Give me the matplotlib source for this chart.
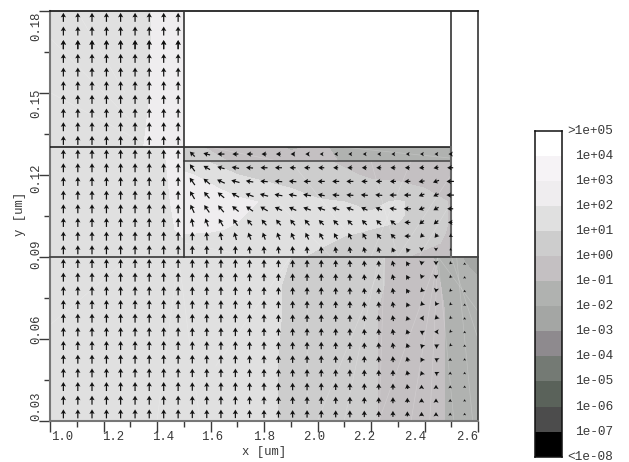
import numpy as np
import matplotlib
matplotlib.use("Agg")
import matplotlib.pyplot as plt
from matplotlib.colors import ListedColormap, BoundaryNorm

plt.rcParams['font.family'] = ['Liberation Mono', 'DejaVu Sans Mono']

# ---------- data ----------
band_colors = ['#000000', '#4c4c4c', '#5a625a', '#747a74', '#8e8a8e', '#a4a6a4', '#b0b2b0',
               '#c4c0c2', '#cdcdcd', '#e0e0e0', '#efedef', '#f6f3f6', '#ffffff']
band_levels = [-8, -7, -6, -5, -4, -3, -2, -1, 0, 1, 2, 3, 4, 5]
bar_labels = ['<1e-08', '1e-07', '1e-06', '1e-05', '1e-04', '1e-03', '1e-02', '1e-01',
              '1e+00', '1e+01', '1e+02', '1e+03', '1e+04', '>1e+05']

# log10 field, per device block
upper_x = [1.0, 1.2, 1.3, 1.4, 1.5]
upper_y = [0.13, 0.15, 0.18]
upper_val = [[1.5, 1.6, 1.8, 2.2, 2.6],
             [1.5, 1.5, 1.7, 2.1, 2.5],
             [1.5, 1.5, 1.6, 2.1, 2.5]]
mid_left_y = [0.09, 0.10, 0.11, 0.13]
mid_left_val = [[1.5, 1.5, 1.5, 1.5, 1.6],
                [1.5, 1.5, 1.5, 1.6, 2.2],
                [1.5, 1.5, 1.5, 1.5, 2.5],
                [1.5, 1.5, 1.5, 1.8, 2.5]]
mid_x = [1.5, 1.6, 1.7, 1.8, 1.9, 2.0, 2.1, 2.2, 2.3, 2.4, 2.5]
mid_y = [0.09, 0.095, 0.10, 0.105, 0.11, 0.115, 0.12, 0.125]
mid_val = [[1.5, 1.5, 1.4, 1.3, 1.1, 0.9, 0.7, 0.5, 0.2, -0.3, -1.0],
           [1.6, 1.6, 1.5, 1.4, 1.2, 1.1, 0.9, 0.7, 0.5, 0.3, -0.2],
           [2.2, 2.1, 1.9, 1.6, 1.3, 1.2, 1.1, 1.0, 0.9, 0.5, -0.1],
           [2.6, 2.5, 2.1, 1.7, 1.4, 1.3, 1.2, 1.1, 1.1, 0.7, -0.1],
           [2.7, 2.5, 2.3, 1.9, 1.4, 1.1, 1.0, 0.8, 1.1, 0.7, -0.1],
           [2.6, 2.2, 1.5, 1.2, 1.0, 0.7, 0.4, 0.2, 0.2, 0.0, -0.2],
           [2.2, 1.6, 1.0, 0.8, 0.5, 0.3, 0.1, -0.1, -0.2, -0.3, -0.4],
           [1.3, 0.9, 0.7, 0.5, 0.3, 0.1, -0.1, -0.2, -0.3, -0.4, -0.5]]
strip_y = [0.125, 0.13]
strip_val = [[0.8, 0.5, -0.3, -0.2, -0.4, -0.4, -1.2, -1.2, -1.3, -1.4, -1.5],
             [0.5, -0.2, -0.5, -0.3, -1.2, -0.8, -1.3, -1.2, -1.4, -1.3, -1.5]]
low_x = [1.0, 1.2, 1.4, 1.6, 1.8, 1.9, 2.0, 2.1, 2.2, 2.3, 2.4, 2.5, 2.55, 2.6]
low_y = [0.03, 0.05, 0.07, 0.08, 0.09]
low_val = [[1.5, 1.5, 1.5, 1.5, 1.2, 0.8, 0.6, 0.4, 0.1, -0.3, -0.7, -1.1, -1.4, -1.6],
           [1.5, 1.5, 1.5, 1.5, 1.2, 0.8, 0.6, 0.4, 0.1, -0.3, -0.7, -1.1, -1.4, -1.6],
           [1.5, 1.5, 1.5, 1.5, 1.2, 0.9, 0.6, 0.4, 0.1, -0.3, -0.7, -1.1, -1.4, -1.7],
           [1.5, 1.5, 1.5, 1.5, 1.2, 0.9, 0.6, 0.4, 0.2, -0.2, -0.7, -1.2, -1.6, -1.9],
           [1.5, 1.5, 1.5, 1.5, 1.3, 1.0, 0.7, 0.4, 0.2, -0.2, -0.8, -1.4, -2.1, -2.3]]

# faint mesh edges: (x0, y0, x1, y1)
mesh_edges = [(2.45, .09, 2.23, .03), (2.45, .09, 2.35, .03), (2.45, .09, 2.42, .03),
              (2.45, .09, 2.51, .03), (2.25, .09, 2.00, .03), (2.25, .09, 2.23, .03),
              (1.96, .09, 1.96, .03), (2.23, .09, 2.10, .03), (2.52, .09, 2.58, .03),
              (1.48, .09, 1.40, .03), (1.48, .09, 1.56, .03), (1.00, .065, 1.30, .09),
              (1.90, .09, 1.62, .05), (2.45, .09, 2.60, .07), (2.50, .09, 2.60, .06),
              (1.00, .17, 1.30, .14), (1.10, .18, 1.28, .15), (1.00, .15, 1.38, .13),
              (1.90, .125, 2.10, .10), (2.20, .125, 2.30, .09), (2.35, .125, 2.20, .09),
              (2.50, .12, 2.30, .09), (2.50, .11, 2.38, .09), (1.60, .13, 1.85, .125),
              (2.10, .13, 2.50, .126), (1.50, .095, 1.75, .09), (1.85, .11, 2.05, .09)]

# arrows: grid positions
arrow_x = [1.05, 1.104, 1.157, 1.211, 1.264, 1.318, 1.371, 1.425, 1.479, 1.532, 1.586, 1.639,
           1.693, 1.746, 1.8, 1.854, 1.907, 1.961, 2.014, 2.068, 2.121, 2.175, 2.229, 2.282,
           2.336, 2.389, 2.443, 2.496, 2.55]
arrow_y = [.0325, .0375, .0425, .0475, .0525, .0575, .0625, .0675, .0725, .0775, .0825, .0875,
           .0925, .0975, .1025, .1075, .1125, .1175, .1225, .1275,
           .1325, .1375, .1425, .1475, .1525, .1575, .1625, .1675, .1725, .1775]
# left columns (x < 1.5): length in px, pointing straight up
left_len = [9, 9, 9, 9, 9, 9, 9, 9, 9]
# lower block, columns 9..14
low_mid_len = [8.5, 8.5, 8.5, 8.5, 8, 8]
# lower block, columns 15..28, rows from bottom to top
low_len = [[7.5, 7.5, 7.5, 7.5, 7, 7, 6.5, 6, 6, 5, 4, 3.5, 2.5, 2],
           [7.5, 7.5, 7.5, 7.5, 7, 7, 6.5, 6, 6, 5, 4, 3.5, 2.5, 2],
           [7.5, 7.5, 7.5, 7.5, 7, 7, 6.5, 6, 6, 5, 3.5, 3.5, 2.5, 2],
           [7.5, 7.5, 7.5, 7.5, 7, 7, 6.5, 6, 6, 5, 4, 3.5, 2.5, 2],
           [7.5, 7.5, 7.5, 7.5, 7, 7, 6.5, 6, 6, 5, 4, 3.5, 2.5, 2],
           [7.5, 7.5, 7.5, 7.5, 7, 7, 6, 6, 6, 5, 4, 4, 2.5, 2],
           [7.5, 7.5, 7.5, 7.5, 7, 7, 6, 6, 6, 5, 4, 3.5, 2.5, 2],
           [7.5, 7.5, 7.5, 7.5, 7, 7, 6, 6, 6, 4.5, 4, 4, 2.5, 2],
           [7.5, 7.5, 7.5, 7.5, 7, 7, 6, 6, 6, 4.5, 4, 3.5, 2.5, 2],
           [7.5, 7.5, 7.5, 7.5, 7, 7, 6, 6, 6, 5, 4, 3.5, 2.5, 2],
           [7.5, 7.5, 7.5, 7.5, 7, 7, 6, 6, 6, 5, 4, 3.5, 2.5, 2],
           [7.5, 7.5, 7.5, 7.5, 7, 7, 6, 6, 6, 5, 4, 3.5, 2.5, 2]]
low_ang = [[0, 0, 0, 0, 0, 0, 0, 0, 0, 0, 0, 0, 0, 0],
           [0, 0, 0, 0, 0, 0, 0, 0, 0, 0, 0, 0, 0, 0],
           [0, 0, 0, 0, 0, 0, 0, 0, 0, 10, 0, 0, 0, 0],
           [0, 0, 0, 0, 0, 0, 0, 0, 0, 15, 20, 60, 0, 0],
           [0, 0, 0, 0, 0, 0, 0, 0, 5, 15, 30, 60, 0, 0],
           [0, 0, 0, 0, 0, 0, 0, 5, 10, 20, 45, 60, 135, 0],
           [0, 0, 0, 0, 0, 0, 5, 5, 10, 20, 60, 90, 135, 0],
           [0, 0, 0, 0, 0, 0, 5, 5, 10, 20, 90, 135, 135, 0],
           [0, 0, 0, 0, 0, 0, 5, 5, 10, 25, 135, 150, 135, 0],
           [0, 0, 0, 0, 0, 0, 5, 5, 10, 30, 135, 170, 135, 0],
           [0, 0, 0, 0, 0, 0, 5, 5, 15, 30, 160, 180, 135, 0],
           [0, 0, 0, 0, 0, 5, 5, 5, 15, 30, 170, 180, 135, 0]]
# middle block, columns 9..27, rows from bottom to top
mid_len = [[8.5, 8.5, 8, 8, 7.5, 7.5, 7.5, 7.5, 7, 7, 6.5, 6.5, 6, 6, 5, 4.5, 3.5, 3, 2],
           [8.5, 8.5, 8, 8, 7.5, 7.5, 7.5, 7.5, 7.5, 7.5, 7, 7, 7, 6.5, 6.5, 6, 4.5, 4.5, 3],
           [8.5, 8.5, 8.5, 8, 7.5, 7.5, 7.5, 7.5, 7.5, 7, 7, 7, 7, 7, 7, 6, 6, 6, 4.5],
           [9, 9, 9, 8.5, 8.5, 8.5, 8, 8, 8, 8, 7.5, 7.5, 7, 7, 7, 7, 6, 6, 6],
           [9, 8.5, 8.5, 8.5, 8.5, 8.5, 8, 8, 8, 7, 7, 7, 7, 7, 7, 7, 6, 6, 7.5],
           [9, 8.5, 8.5, 8.5, 7.5, 7.5, 7.5, 7.5, 7, 7, 7, 7, 6, 6, 6, 6, 6, 6.5, 7.5],
           [8.5, 7.5, 7.5, 7.5, 7, 7, 7, 6, 6, 6, 5, 5, 5, 5, 5, 5, 5, 5, 6],
           [7, 7, 7, 6, 6, 5, 5, 4, 3.5, 3, 3, 3, 3, 3, 3, 3, 3, 3, 3.5]]
mid_ang = [[0, 0, 0, 0, 5, 5, 5, 5, 5, 5, 10, 10, 15, 15, 25, 40, 180, 180, 120],
           [0, 5, 10, 15, 20, 20, 20, 25, 25, 30, 30, 25, 30, 40, 45, 90, 135, 140, 120],
           [10, 20, 30, 35, 40, 40, 40, 40, 40, 45, 45, 45, 45, 45, 50, 90, 130, 130, 90],
           [25, 35, 40, 50, 55, 60, 65, 65, 70, 70, 75, 70, 65, 70, 80, 90, 110, 120, 90],
           [30, 40, 50, 60, 70, 75, 80, 80, 80, 80, 85, 85, 85, 85, 90, 90, 110, 115, 90],
           [35, 50, 65, 75, 80, 85, 85, 85, 90, 90, 90, 90, 90, 90, 90, 90, 100, 110, 90],
           [35, 60, 75, 80, 85, 90, 90, 90, 90, 90, 90, 90, 90, 90, 90, 90, 95, 100, 90],
           [45, 75, 90, 90, 90, 90, 90, 90, 90, 90, 90, 90, 90, 90, 90, 90, 90, 90, 90]]

x_tick_labels = ['1.0', '1.2', '1.4', '1.6', '1.8', '2.0', '2.2', '2.4', '2.6']
x_ticks = [1.0, 1.2, 1.4, 1.6, 1.8, 2.0, 2.2, 2.4, 2.6]
y_tick_labels = ['0.03', '0.06', '0.09', '0.12', '0.15', '0.18']
y_ticks = [0.03, 0.06, 0.09, 0.12, 0.15, 0.18]

# ---------- layout helpers (pixels of the 629x462 picture) ----------
W, H = 629, 462
def frac(l, t, r, b):
    return [l / W, 1 - b / H, (r - l) / W, (b - t) / H]

x_label_dx = [12, 9.5, 6, 2, 0.5, -3, -7, -9, -11]
y_label_dy = [14.7, 9.7, 2.5, -3.3, -10.3, -15.3]

# ---------- figure ----------
fig = plt.figure(figsize=(W / 100, H / 100), dpi=100)
ax = fig.add_axes(frac(50, 10.5, 478, 420.7))
ax.set_xlim(1.0, 2.6)
ax.set_ylim(0.03, 0.18)

cmap = ListedColormap(band_colors)
norm = BoundaryNorm(band_levels, cmap.N)
blocks = [(upper_x, upper_y, upper_val), (upper_x, mid_left_y, mid_left_val),
          (mid_x, mid_y, mid_val), (mid_x, strip_y, strip_val), (low_x, low_y, low_val)]
for bx, by, bv in blocks:
    ax.contourf(bx, by, np.array(bv), levels=band_levels, cmap=cmap, norm=norm,
                antialiased=False, zorder=1)

for x0, y0, x1, y1 in mesh_edges:
    ax.plot([x0, x1], [y0, y1], color='white', alpha=0.2, lw=0.5, zorder=2)

ax_c = '#3a3a3a'
ax.plot([1.0, 2.6], [0.09, 0.09], color='#444444', lw=1.3, zorder=3, clip_on=False)
ax.plot([1.0, 2.5], [0.13, 0.13], color='#111111', lw=1.1, zorder=3)
ax.plot([1.5, 2.5], [0.125, 0.125], color='#444444', lw=1.1, zorder=3)
ax.plot([1.5, 1.5], [0.09, 0.18], color='#333333', lw=1.2, zorder=3)
ax.plot([2.5, 2.5], [0.13, 0.18], color='#222222', lw=1.1, zorder=3)
ax.plot([2.5, 2.5], [0.09, 0.13], color='#666666', lw=1.5, zorder=3)

# arrows
L = np.full((len(arrow_y), len(arrow_x)), np.nan)
A = np.zeros_like(L)
for r in range(12):
    L[r] = left_len + low_mid_len + low_len[r]
    A[r, 15:] = low_ang[r]
for r in range(8):
    L[12 + r, :9] = left_len
    L[12 + r, 9:28] = mid_len[r]
    A[12 + r, 9:28] = mid_ang[r]
for r in range(20, 30):
    L[r, :9] = left_len
X, Y = np.meshgrid(arrow_x, arrow_y)
U = -L * np.sin(np.radians(A))
V = L * np.cos(np.radians(A))
ok = np.isfinite(L)
qkw = dict(angles='uv', scale_units='dots', scale=1, units='dots', width=1.2,
           headwidth=4.4, headlength=3.8, headaxislength=3.2, minshaft=0.8, minlength=1.6,
           pivot='mid', color='#111111', zorder=4)
ax.quiver(X[ok], Y[ok], U[ok], V[ok], **qkw)
ax.quiver(X[27, :9], Y[27, :9], U[27, :9], V[27, :9], **qkw)

# axes frame and ticks
for name, col, lw in [('left', '#777777', 1.5), ('bottom', '#777777', 1.5),
                      ('top', '#111111', 1.2), ('right', '#333333', 1.2)]:
    ax.spines[name].set_color(col)
    ax.spines[name].set_linewidth(lw)
ax.set_xticks(x_ticks)
ax.set_xticks(np.array(x_ticks[:-1]) + 0.1, minor=True)
ax.set_yticks(y_ticks)
ax.set_yticks(np.array(y_ticks[:-1]) + 0.015, minor=True)
ax.tick_params(which='major', length=8, width=1, color=ax_c, labelbottom=False, labelleft=False)
ax.tick_params(which='minor', length=4, width=1, color=ax_c)
txt = dict(fontsize=8.8, color='#383838')
for v, s, dx in zip(x_ticks, x_tick_labels, x_label_dx):
    ax.annotate(s, xy=(v, 0), xycoords=('data', 'axes fraction'), xytext=(dx, -16.5),
                textcoords='offset pixels', ha='center', va='center', **txt)
for v, s, dy in zip(y_ticks, y_tick_labels, y_label_dy):
    ax.annotate(s, xy=(0, v), xycoords=('axes fraction', 'data'), xytext=(-13.5, dy),
                textcoords='offset pixels', ha='center', va='center', rotation=90, **txt)
fig.text(264 / W, 1 - 452 / H, 'x [um]', ha='center', va='center', **txt)
fig.text(20 / W, 1 - 214 / H, 'y [um]', ha='center', va='center', rotation=90, **txt)

# colour bar
cax = fig.add_axes(frac(535, 130.7, 561.5, 456.7))
cax.pcolormesh([0, 1], band_levels, np.array(band_levels[:-1]).reshape(-1, 1) + 0.5,
               cmap=cmap, norm=norm)
cax.set_xlim(0, 1)
cax.set_ylim(-8, 5)
cax.set_xticks([])
cax.set_yticks([])
for sp in cax.spines.values():
    sp.set_color('#111111')
    sp.set_linewidth(1.1)
for lev, s in zip(band_levels, bar_labels):
    cax.annotate(s, xy=(1, lev), xycoords=('axes fraction', 'data'), xytext=(52, 0),
                 textcoords='offset pixels', ha='right', va='center',
                 fontsize=9.2, color='#383838', annotation_clip=False)

fig.savefig('out.png', dpi=100)
